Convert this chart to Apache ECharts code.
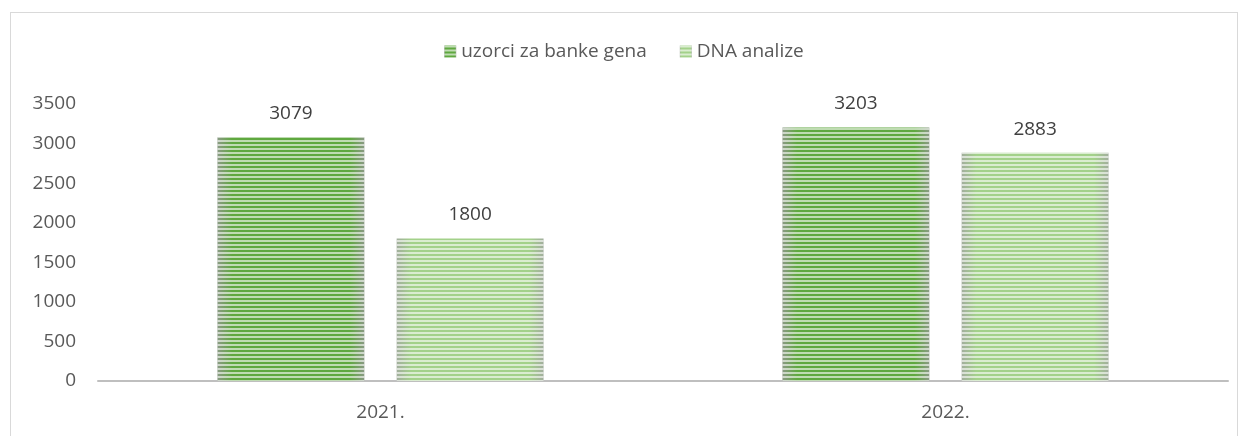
<!DOCTYPE html>
<html>
<head>
<meta charset="utf-8">
<script src="https://cdn.jsdelivr.net/npm/echarts@6/dist/echarts.min.js"></script>
<style>
  html, body { margin: 0; padding: 0; background: #fff; }
  #frame { position: absolute; left: 10px; top: 12px; width: 1228px; height: 440px; border: 1px solid #d9d9d9; box-sizing: border-box; }
  #chart { position: absolute; left: 0; top: 0; width: 1248px; height: 436px; }
</style>
</head>
<body>
<div id="frame"></div>
<div id="chart"></div>
<script>
  // podaci
  const years = ['2021.', '2022.'];
  const genBank = [3079, 3203];
  const dnaAnalize = [1800, 2883];
  const seriesNames = ['uzorci za banke gena', 'DNA analize'];

  // vodoravna sjena na rubovima stupca
  function edgeFill(mid, edge) {
    return new echarts.graphic.LinearGradient(0, 0, 1, 0, [
      { offset: 0, color: edge },
      { offset: 0.1, color: mid },
      { offset: 0.9, color: mid },
      { offset: 1, color: edge }
    ]);
  }
  function stripes() {
    return {
      symbol: 'rect',
      symbolSize: 1,
      dashArrayX: [[8, 0]],
      dashArrayY: [2, 2],
      rotation: 0,
      color: 'rgba(255,255,255,0.6)'
    };
  }

  const chart = echarts.init(document.getElementById('chart'));
  chart.setOption({
    animation: false,
    textStyle: { fontFamily: 'Open Sans, Noto Sans, sans-serif' },
    legend: {
      top: 37,
      left: 'center',
      icon: 'rect',
      itemWidth: 12,
      itemHeight: 12,
      itemGap: 33,
      textStyle: { color: '#595959', fontSize: 19 },
      data: seriesNames
    },
    grid: { left: 98, right: 20, top: 104, bottom: 55 },
    xAxis: {
      type: 'category',
      data: years,
      axisLine: { lineStyle: { color: '#bfbfbf', width: 2 } },
      axisTick: { show: false },
      axisLabel: { color: '#595959', fontSize: 19, margin: 22 }
    },
    yAxis: {
      type: 'value',
      min: 0,
      max: 3500,
      interval: 500,
      axisLine: { show: false },
      axisTick: { show: false },
      splitLine: { show: false },
      axisLabel: { color: '#595959', fontSize: 19, margin: 22, formatter: v => String(v) }
    },
    series: [
      {
        name: seriesNames[0],
        type: 'bar',
        data: genBank,
        barWidth: '26%',
        barGap: '22%',
        itemStyle: {
          color: edgeFill('#5fa83f', '#8a9a84'),
          decal: stripes()
        },
        label: { show: true, position: 'top', distance: 14, color: '#404040', fontSize: 19 }
      },
      {
        name: seriesNames[1],
        type: 'bar',
        data: dnaAnalize,
        barWidth: '26%',
        itemStyle: {
          color: edgeFill('#a3d18a', '#a2ae9d'),
          decal: stripes()
        },
        label: { show: true, position: 'top', distance: 14, color: '#404040', fontSize: 19 }
      }
    ],
    aria: { enabled: true, decal: { show: true } }
  });
</script>
</body>
</html>
